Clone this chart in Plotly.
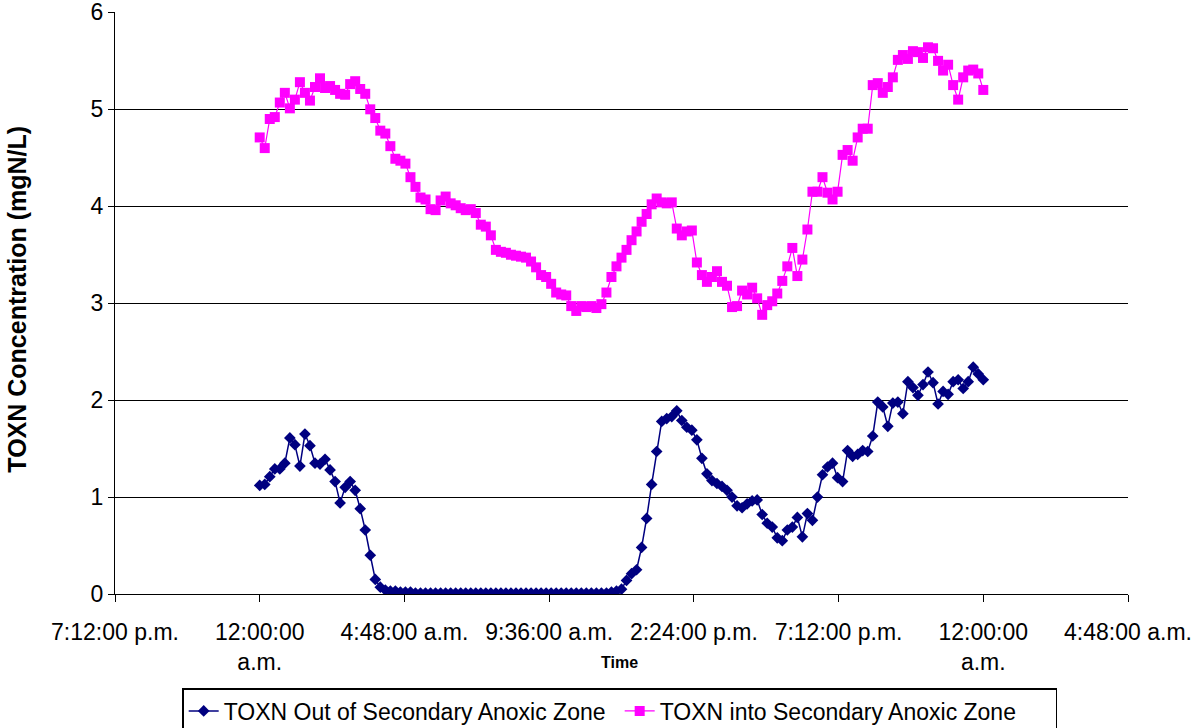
import pandas as pd
import plotly.graph_objects as go

# Sampling times: one reading every 10 minutes over 24 hours
times = pd.date_range("2000-01-01 00:00", "2000-01-02 00:00", freq="10min")

toxn_out = [
    1.12, 1.13, 1.21, 1.29, 1.29, 1.35, 1.61, 1.54, 1.32, 1.65,
    1.53, 1.35, 1.34, 1.39, 1.28, 1.16, 0.94, 1.10, 1.16, 1.07,
    0.88, 0.66, 0.40, 0.15, 0.07, 0.04, 0.03, 0.03, 0.02, 0.02,
    0.02, 0.01, 0.01, 0.01, 0.01, 0.01, 0.01, 0.01, 0.01, 0.01,
    0.01, 0.01, 0.01, 0.01, 0.01, 0.01, 0.01, 0.01, 0.01, 0.01,
    0.01, 0.01, 0.01, 0.01, 0.01, 0.01, 0.01, 0.01, 0.01, 0.01,
    0.01, 0.01, 0.01, 0.01, 0.01, 0.01, 0.01, 0.01, 0.01, 0.01,
    0.02, 0.03, 0.05, 0.14, 0.21, 0.25, 0.48, 0.78, 1.13, 1.47,
    1.78, 1.81, 1.83, 1.89, 1.79, 1.72, 1.69, 1.59, 1.40, 1.24,
    1.17, 1.14, 1.11, 1.07, 1.00, 0.91, 0.89, 0.93, 0.96, 0.97,
    0.82, 0.73, 0.69, 0.58, 0.55, 0.66, 0.69, 0.79, 0.59, 0.83,
    0.76, 1.00, 1.23, 1.31, 1.35, 1.20, 1.16, 1.48, 1.42, 1.44,
    1.48, 1.47, 1.63, 1.98, 1.93, 1.73, 1.97, 1.98, 1.86, 2.19,
    2.13, 2.05, 2.16, 2.29, 2.18, 1.96, 2.09, 2.06, 2.19, 2.21,
    2.12, 2.19, 2.34, 2.27, 2.21,
]

toxn_in = [
    4.71, 4.60, 4.90, 4.92, 5.07, 5.17, 5.01, 5.10, 5.28, 5.17,
    5.09, 5.23, 5.32, 5.22, 5.24, 5.20, 5.16, 5.15, 5.26, 5.29,
    5.21, 5.16, 5.00, 4.91, 4.78, 4.75, 4.62, 4.49, 4.47, 4.44,
    4.30, 4.20, 4.09, 4.07, 3.97, 3.96, 4.06, 4.10, 4.03, 4.01,
    3.98, 3.96, 3.97, 3.93, 3.81, 3.79, 3.70, 3.55, 3.53, 3.52,
    3.50, 3.49, 3.48, 3.47, 3.43, 3.37, 3.29, 3.27, 3.20, 3.11,
    3.09, 3.08, 2.97, 2.92, 2.97, 2.96, 2.97, 2.95, 2.99, 3.11,
    3.27, 3.38, 3.47, 3.55, 3.65, 3.74, 3.84, 3.92, 4.02, 4.08,
    4.04, 4.03, 4.04, 3.77, 3.70, 3.74, 3.75, 3.42, 3.29, 3.22,
    3.27, 3.33, 3.22, 3.18, 2.96, 2.97, 3.13, 3.09, 3.16, 3.05,
    2.88, 2.98, 3.02, 3.10, 3.23, 3.38, 3.57, 3.28, 3.45, 3.76,
    4.15, 4.15, 4.30, 4.14, 4.07, 4.15, 4.53, 4.58, 4.47, 4.71,
    4.80, 4.80, 5.25, 5.27, 5.17, 5.23, 5.33, 5.51, 5.56, 5.52,
    5.60, 5.59, 5.53, 5.64, 5.63, 5.50, 5.40, 5.46, 5.25, 5.10,
    5.33, 5.40, 5.41, 5.37, 5.20,
]

tick_times = [
    "1999-12-31 19:12", "2000-01-01 00:00", "2000-01-01 04:48",
    "2000-01-01 09:36", "2000-01-01 14:24", "2000-01-01 19:12",
    "2000-01-02 00:00", "2000-01-02 04:48",
]
tick_labels = [
    "7:12:00 p.m.", "12:00:00<br>a.m.", "4:48:00 a.m.", "9:36:00 a.m.",
    "2:24:00 p.m.", "7:12:00 p.m.", "12:00:00<br>a.m.", "4:48:00 a.m.",
]
y_ticks = [0, 1, 2, 3, 4, 5, 6]

FONT = "Liberation Sans, Arial, sans-serif"

fig = go.Figure()
fig.add_trace(go.Scatter(
    x=times, y=toxn_out, mode="lines+markers",
    name="TOXN Out of Secondary Anoxic Zone",
    line=dict(color="#000080", width=1.5),
    marker=dict(symbol="diamond", size=9, color="#000080"),
))
fig.add_trace(go.Scatter(
    x=times, y=toxn_in, mode="lines+markers",
    name="TOXN into Secondary Anoxic Zone",
    line=dict(color="#FF00FF", width=1.2),
    marker=dict(symbol="square", size=10, color="#FF00FF"),
))

fig.update_layout(
    width=1194, height=728,
    margin=dict(l=115, r=66, t=12, b=134, autoexpand=False),
    paper_bgcolor="white", plot_bgcolor="white",
    font=dict(family=FONT, size=23, color="black"),
    showlegend=True,
    legend=dict(
        orientation="h", xref="container", yref="container",
        x=0.519, xanchor="center", y=1 - 688 / 728, yanchor="top",
        bordercolor="black", borderwidth=1.5, font=dict(size=23),
        itemwidth=30, tracegroupgap=0,
        entrywidth=391, entrywidthmode="pixels",
    ),
    xaxis=dict(
        type="date",
        range=[tick_times[0], tick_times[-1]],
        tickvals=tick_times, ticktext=tick_labels,
        ticks="outside", ticklen=7, tickcolor="black",
        showline=True, linecolor="black", linewidth=1.2,
        showgrid=False, zeroline=False, automargin=False,
        ticklabelstandoff=10,
        tickfont=dict(size=23),
    ),
    yaxis=dict(
        range=[0, 6.004], tickvals=y_ticks,
        ticks="outside", ticklen=6, tickcolor="black",
        showline=True, linecolor="black", linewidth=1.2,
        showgrid=True, gridcolor="black", gridwidth=1.2,
        zeroline=False, automargin=False, tickfont=dict(size=23),
        ticklabeloverflow="allow",
    ),
    annotations=[
        dict(text="<b>TOXN Concentration (mgN/L)</b>", textangle=-90,
             xref="paper", yref="paper", x=-0.097, y=0.507,
             xanchor="center", yanchor="middle", showarrow=False,
             font=dict(size=25)),
        dict(text="<b>Time</b>", xref="paper", yref="paper",
             x=0.498, y=-0.117, xanchor="center", yanchor="middle",
             showarrow=False, font=dict(size=16)),
    ],
)

fig.write_html("out.html")
